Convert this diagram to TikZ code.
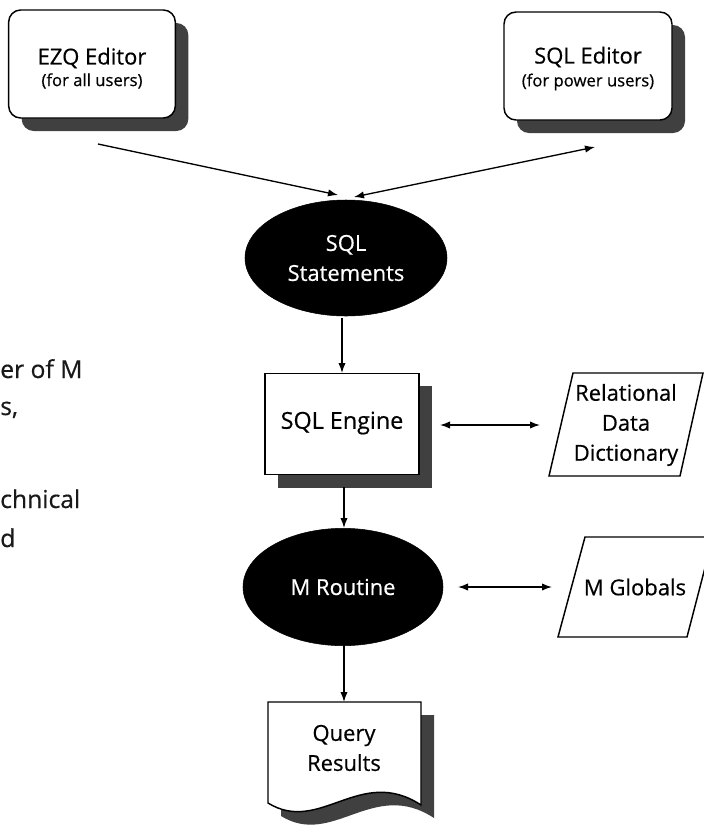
\documentclass[tikz,border=0pt]{standalone}
\usepackage{fontspec}
\setmainfont{Open Sans}[FakeBold=0.5]
\usetikzlibrary{shapes.geometric,arrows.meta}
\begin{document}
\begin{tikzpicture}[x=0.75pt,y=-0.75pt,
  conn/.style={line width=1pt,-{Latex[length=7.5pt,width=5.5pt]}},
  dconn/.style={line width=1pt,{Latex[length=7.5pt,width=5.5pt]}-{Latex[length=7.5pt,width=5.5pt]}},
  shade/.style={fill=black!75,draw=none},
  box/.style={draw,line width=1.1pt,fill=white},
  editor/.style={rectangle,rounded corners=9pt,minimum width=125pt,minimum height=81pt,inner sep=0pt},
  engbox/.style={rectangle,minimum width=115.5pt,minimum height=76pt,inner sep=0pt},
  oval/.style={ellipse,fill=black,draw=black,text=white,minimum width=151.5pt,minimum height=87pt,inner sep=0pt,align=center},
  lbl/.style={align=center,inner sep=0pt},
  bigtxt/.style={font=\fontsize{16.5}{22.5}\selectfont},
  smalltxt/.style={font=\fontsize{12.5}{15}\selectfont},
  pagetxt/.style={anchor=base west,inner sep=0pt,text=black!90,font=\fontsize{18.5}{22}\selectfont},
]
\useasboundingbox (0,0) rectangle (704,826);
\clip (0,0) rectangle (704,826);

% left page text fragments
\node[pagetxt] (p1) at (0,378) {er of M};
\node[pagetxt] (p2) at (0,415) {s,};
\node[pagetxt] (p3) at (0,508) {chnical};
\node[pagetxt] (p4) at (0,547) {d};

% EZQ editor
\node[editor,shade] (ezqsh) at (105,77) {};
\node[editor,box] (ezq) at (92,64) {};
\node[lbl,bigtxt] (ezqt1) at (92,58) {EZQ Editor};
\node[lbl,smalltxt] (ezqt2) at (92,81) {(for all users)};

% SQL editor
\node[editor,shade,minimum width=126pt] (sqlesh) at (601,79) {};
\node[editor,box,minimum width=126pt] (sqle) at (588,66) {};
\node[lbl,bigtxt] (sqlet1) at (588,57) {SQL Editor};
\node[lbl,smalltxt] (sqlet2) at (588,82) {(for power users)};

% SQL statements
\node[oval,bigtxt] (stmt) at (346,258) {SQL\\Statements};

% SQL engine
\node[engbox,shade] (engsh) at (355,437) {};
\node[engbox,box] (eng) at (342,424) {};
\node[lbl,font=\fontsize{17.5}{20}\selectfont] (engt) at (342,423) {SQL Engine};

% Relational data dictionary
\draw[box] (573,373) -- (703,373) -- (680,476) -- (549,476) -- cycle;
\node[lbl,bigtxt] (rdd) at (626,425) {Relational\\Data\\Dictionary};

% M routine
\node[oval,bigtxt,minimum width=150pt,minimum height=88pt] (mr) at (343,587) {M Routine};

% M globals
\draw[box] (585,537) -- (713,537) -- (687,637) -- (558,637) -- cycle;
\node[lbl,bigtxt] (mg) at (635,587) {M Globals};

% Query results document
\draw[shade] (281,715) -- (434,715) -- (434,818) .. controls (373,778) and (333,848) .. (281,816) -- cycle;
\draw[box] (268,702) -- (421,702) -- (421,805) .. controls (360,765) and (320,835) .. (268,803) -- cycle;
\node[lbl,bigtxt] (qr) at (344,748) {Query\\Results};

% connector end points
\coordinate (a1s) at (98,144);
\coordinate (a1e) at (338,195);
\coordinate (a2s) at (595,147);
\coordinate (a2e) at (354,197);
\coordinate (a3s) at (342,318);
\coordinate (a3e) at (342,373);
\coordinate (a4s) at (440,425);
\coordinate (a4e) at (540,425);
\coordinate (a5s) at (344,487);
\coordinate (a5e) at (344,528);
\coordinate (a6s) at (458,587);
\coordinate (a6e) at (552,587);
\coordinate (a7s) at (344,645);
\coordinate (a7e) at (344,702);

\draw[conn] (a1s) -- (a1e);
\draw[dconn] (a2s) -- (a2e);
\draw[conn] (a3s) -- (a3e);
\draw[dconn] (a4s) -- (a4e);
\draw[conn] (a5s) -- (a5e);
\draw[dconn] (a6s) -- (a6e);
\draw[conn] (a7s) -- (a7e);
\end{tikzpicture}
\end{document}
